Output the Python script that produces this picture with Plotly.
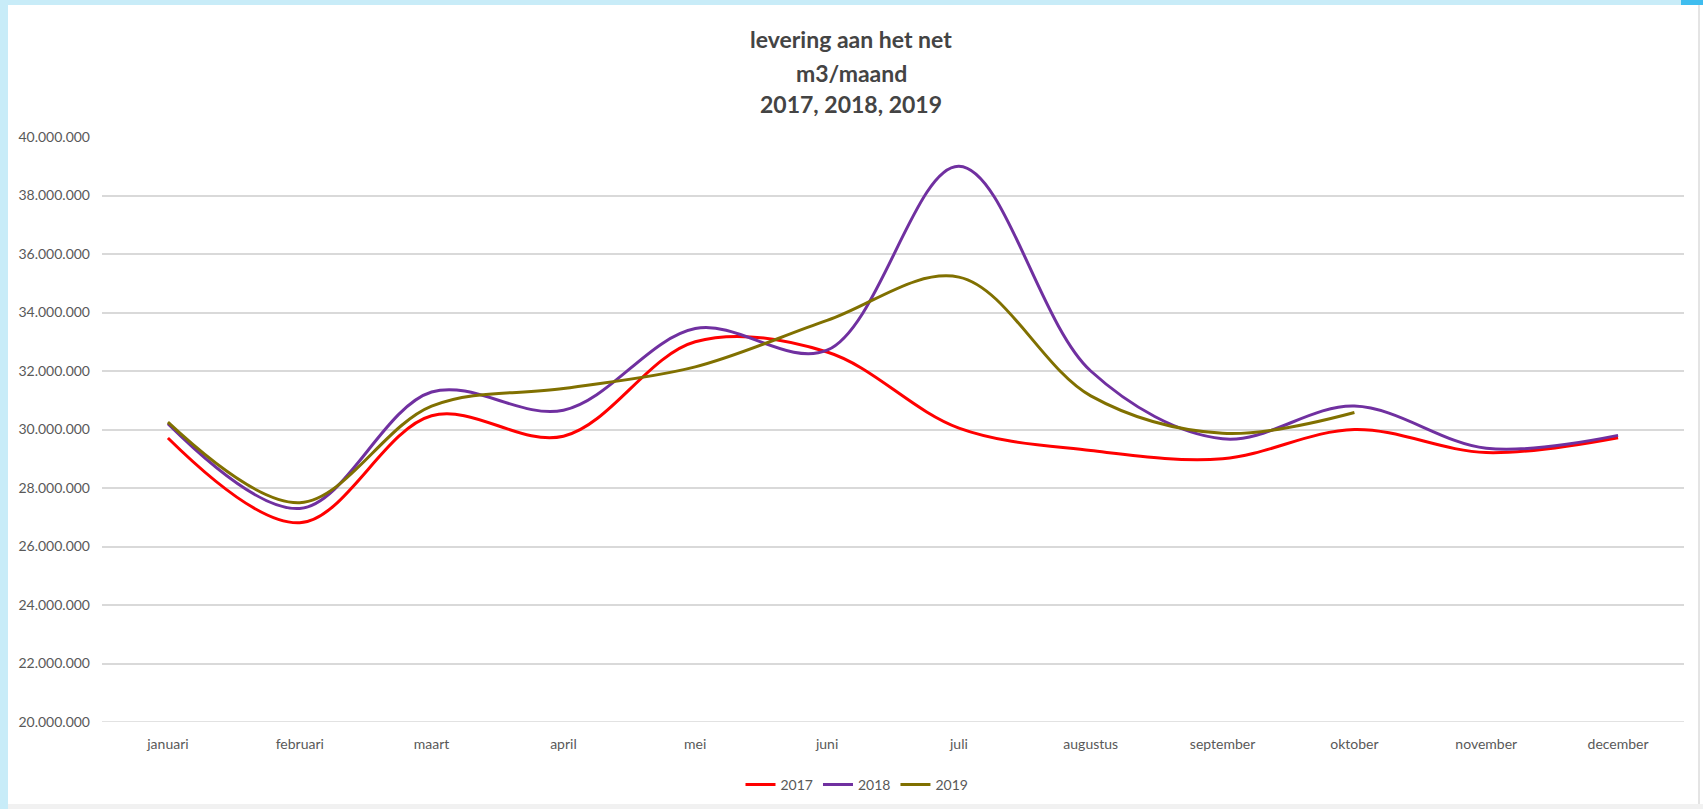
import plotly.graph_objects as go

months = ["januari", "februari", "maart", "april", "mei", "juni", "juli",
          "augustus", "september", "oktober", "november", "december"]

y2017 = [29710000, 26810000, 30470000, 29770000, 33000000, 32650000, 30050000,
         29280000, 29000000, 30000000, 29210000, 29720000]
y2018 = [30200000, 27300000, 31280000, 30660000, 33450000, 32710000, 39000000,
         32000000, 29680000, 30800000, 29360000, 29800000]
y2019 = [30250000, 27500000, 30800000, 31400000, 32140000, 33730000, 35210000,
         31150000, 29870000, 30580000, None, None]

series_names = ["2017", "2018", "2019"]
series_values = [y2017, y2018, y2019]
series_colors = ["#ff0000", "#7030a0", "#807000"]

title_lines = ["levering aan het net", "m3/maand", "2017, 2018, 2019"]

y_min, y_max, y_step = 20000000, 40000000, 2000000

W, H = 1703, 809
L, R, T, B = 102, 19, 137, 87
PW, PH = W - L - R, H - T - B


def px_x(px):
    return (px - L) / PW


def px_y(py):
    return (H - B - py) / PH


fig = go.Figure()
for name, vals, col in zip(series_names, series_values, series_colors):
    fig.add_trace(go.Scatter(
        x=months, y=vals, name=name, mode="lines",
        line=dict(color=col, width=3, shape="spline", smoothing=1.0),
        connectgaps=False,
    ))

shapes = [
    # white panel
    dict(type="rect", xref="paper", yref="paper", layer="below",
         x0=px_x(8), x1=px_x(1703), y0=px_y(804), y1=px_y(5),
         fillcolor="#ffffff", line=dict(width=0)),
    # bottom light grey strip
    dict(type="rect", xref="paper", yref="paper", layer="below",
         x0=px_x(8), x1=px_x(1703), y0=px_y(809), y1=px_y(804),
         fillcolor="#f1f1f1", line=dict(width=0)),
    # right edge shadow
    dict(type="line", xref="paper", yref="paper", layer="below",
         x0=px_x(1699), x1=px_x(1699), y0=px_y(804), y1=px_y(5),
         line=dict(color="#e4e4e4", width=2)),
    # top-right darker blue tab
    dict(type="rect", xref="paper", yref="paper", layer="below",
         x0=px_x(1681), x1=px_x(1703), y0=px_y(5), y1=px_y(0),
         fillcolor="#3fbdef", line=dict(width=0)),
    # bottom gridline (plotly clips the edge gridline)
    dict(type="line", xref="paper", yref="y", layer="below",
         x0=0, x1=1, y0=y_min, y1=y_min,
         line=dict(color="#d9d9d9", width=1.5)),
]

title_centers = [39, 73.5, 104]
annotations = []
for txt, cy in zip(title_lines, title_centers):
    annotations.append(dict(
        text=txt, xref="paper", yref="paper", x=px_x(851), y=px_y(cy),
        xanchor="center", yanchor="middle", showarrow=False,
        font=dict(family="Lato", size=23, color="#444444", weight="bold"),
    ))

fig.update_layout(
    width=W, height=H,
    margin=dict(l=L, r=R, t=T, b=B, pad=0, autoexpand=False),
    paper_bgcolor="#c8ecf8",
    plot_bgcolor="rgba(0,0,0,0)",
    separators=",.",
    font=dict(family="Lato", size=14, color="#595959"),
    shapes=shapes,
    annotations=annotations,
    showlegend=True,
    legend=dict(orientation="h", x=px_x(857), xanchor="center",
                y=px_y(785), yanchor="middle",
                bgcolor="rgba(0,0,0,0)",
                font=dict(family="Lato", size=14, color="#595959"),
                itemwidth=30, tracegroupgap=0),
    xaxis=dict(type="category", range=[-0.5, 11.5], autorange=False,
               showgrid=False, zeroline=False, showline=False,
               ticks="", ticklabelstandoff=12, automargin=False,
               tickfont=dict(family="Lato", size=14, color="#595959")),
    yaxis=dict(range=[y_min, y_max], autorange=False, dtick=y_step, tick0=0,
               tickformat=",d", showgrid=True, gridcolor="#d9d9d9", gridwidth=1.5,
               zeroline=False, showline=False, ticks="", ticklabelstandoff=11,
               automargin=False,
               tickfont=dict(family="Lato", size=14, color="#595959")),
)

fig.write_html("out.html", include_plotlyjs=True,
               config={"displayModeBar": False},
               post_script="document.body.style.margin='0';document.body.style.overflow='hidden';")
